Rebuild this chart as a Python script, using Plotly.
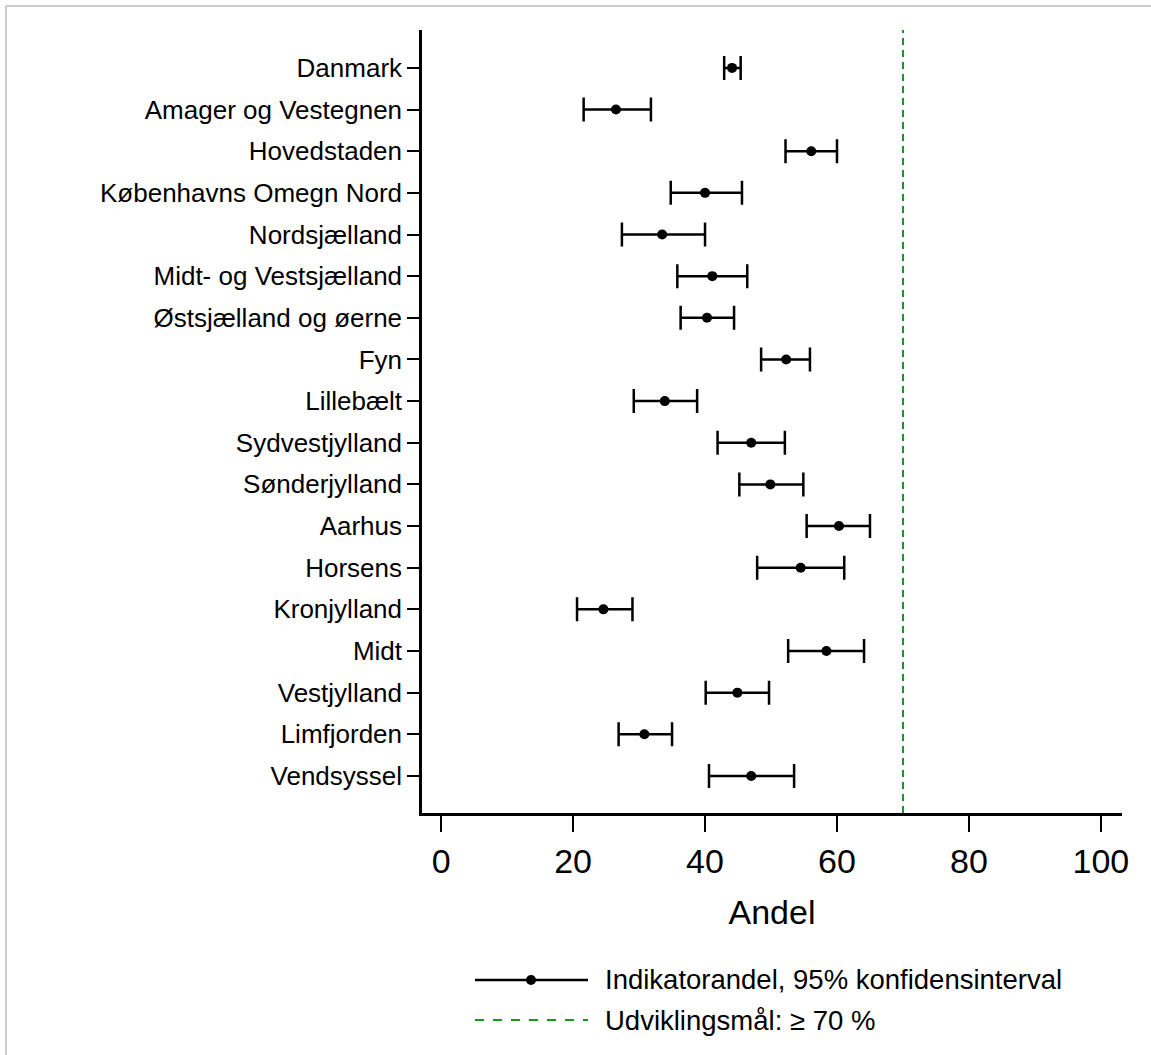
import plotly.graph_objects as go

regions = ["Danmark", "Amager og Vestegnen", "Hovedstaden", "Københavns Omegn Nord",
           "Nordsjælland", "Midt- og Vestsjælland", "Østsjælland og øerne", "Fyn",
           "Lillebælt", "Sydvestjylland", "Sønderjylland", "Aarhus", "Horsens",
           "Kronjylland", "Midt", "Vestjylland", "Limfjorden", "Vendsyssel"]
andel = [44.1, 26.5, 56.1, 40.0, 33.5, 41.1, 40.3, 52.3, 33.9, 47.0, 49.9, 60.3, 54.5,
         24.6, 58.4, 44.9, 30.8, 47.0]
lower = [42.9, 21.6, 52.2, 34.8, 27.4, 35.8, 36.3, 48.5, 29.2, 41.9, 45.2, 55.4, 47.9,
         20.6, 52.6, 40.1, 26.9, 40.6]
upper = [45.4, 31.8, 60.0, 45.6, 40.0, 46.4, 44.4, 55.9, 38.8, 52.1, 54.9, 65.0, 61.1,
         29.0, 64.1, 49.7, 35.0, 53.5]
target = 70
xticks = [0, 20, 40, 60, 80, 100]
legend_labels = ["Indikatorandel, 95% konfidensinterval", "Udviklingsmål: ≥ 70 %"]

FONT = "Liberation Sans, Arial, sans-serif"
W, H = 1151, 1055
L, R, T, B = 422, 29, 30, 242
pw, ph = W - L - R, H - T - B

def px(x):
    return (x - L) / pw

def py(y):
    return (H - B - y) / ph

fig = go.Figure()
fig.add_trace(go.Scatter(
    x=andel, y=regions, mode="markers",
    marker=dict(color="black", size=10),
    error_x=dict(type="data", symmetric=False,
                 array=[u - a for u, a in zip(upper, andel)],
                 arrayminus=[a - l for a, l in zip(andel, lower)],
                 color="black", thickness=2.5, width=12),
    showlegend=False, hoverinfo="x+y"))

fig.add_shape(type="line", xref="x", yref="paper", x0=target, x1=target, y0=0, y1=1,
              line=dict(color="#1a961a", width=2, dash="7px,5px"))

# legend drawn manually
fig.add_shape(type="line", xref="paper", yref="paper", x0=px(475), x1=px(588),
              y0=py(980), y1=py(980), line=dict(color="black", width=2.5))
fig.add_shape(type="circle", xref="paper", yref="paper", x0=px(526), x1=px(536),
              y0=py(985), y1=py(975), fillcolor="black", line=dict(color="black", width=0))
fig.add_shape(type="line", xref="paper", yref="paper", x0=px(475), x1=px(588),
              y0=py(1020), y1=py(1020), line=dict(color="#1a961a", width=2, dash="9px,9px"))
for i, lab in enumerate(legend_labels):
    fig.add_annotation(text=lab, xref="paper", yref="paper", x=px(603), y=py(980 + 40 * i),
                       xanchor="left", yanchor="middle", showarrow=False,
                       font=dict(family=FONT, size=27.5, color="black"))

# partial outer frame (left and top)
fig.add_shape(type="line", xref="paper", yref="paper", x0=px(6), x1=px(1151),
              y0=py(6), y1=py(6), line=dict(color="#bbbbbb", width=1.5))
fig.add_shape(type="line", xref="paper", yref="paper", x0=px(6), x1=px(6),
              y0=py(6), y1=py(1055), line=dict(color="#bbbbbb", width=1.5))

fig.update_layout(
    width=W, height=H, margin=dict(l=L, r=R, t=T, b=B),
    paper_bgcolor="white", plot_bgcolor="white",
    font=dict(family=FONT, color="black"),
    xaxis=dict(range=[-2.9, 103.2], tickvals=xticks, showgrid=False, zeroline=False,
               showline=True, linecolor="black", linewidth=2.5,
               ticks="outside", ticklen=16, tickwidth=2, tickcolor="black",
               tickfont=dict(size=34, family=FONT),
               title=dict(text="Andel", font=dict(size=34, family=FONT), standoff=22)),
    yaxis=dict(type="category", range=[17.89, -0.91], showgrid=False, zeroline=False,
               showline=True, linecolor="black", linewidth=2.5,
               ticks="outside", ticklen=12, tickwidth=2, tickcolor="black",
               tickfont=dict(size=26, family=FONT)),
)

fig.write_html("out.html")
